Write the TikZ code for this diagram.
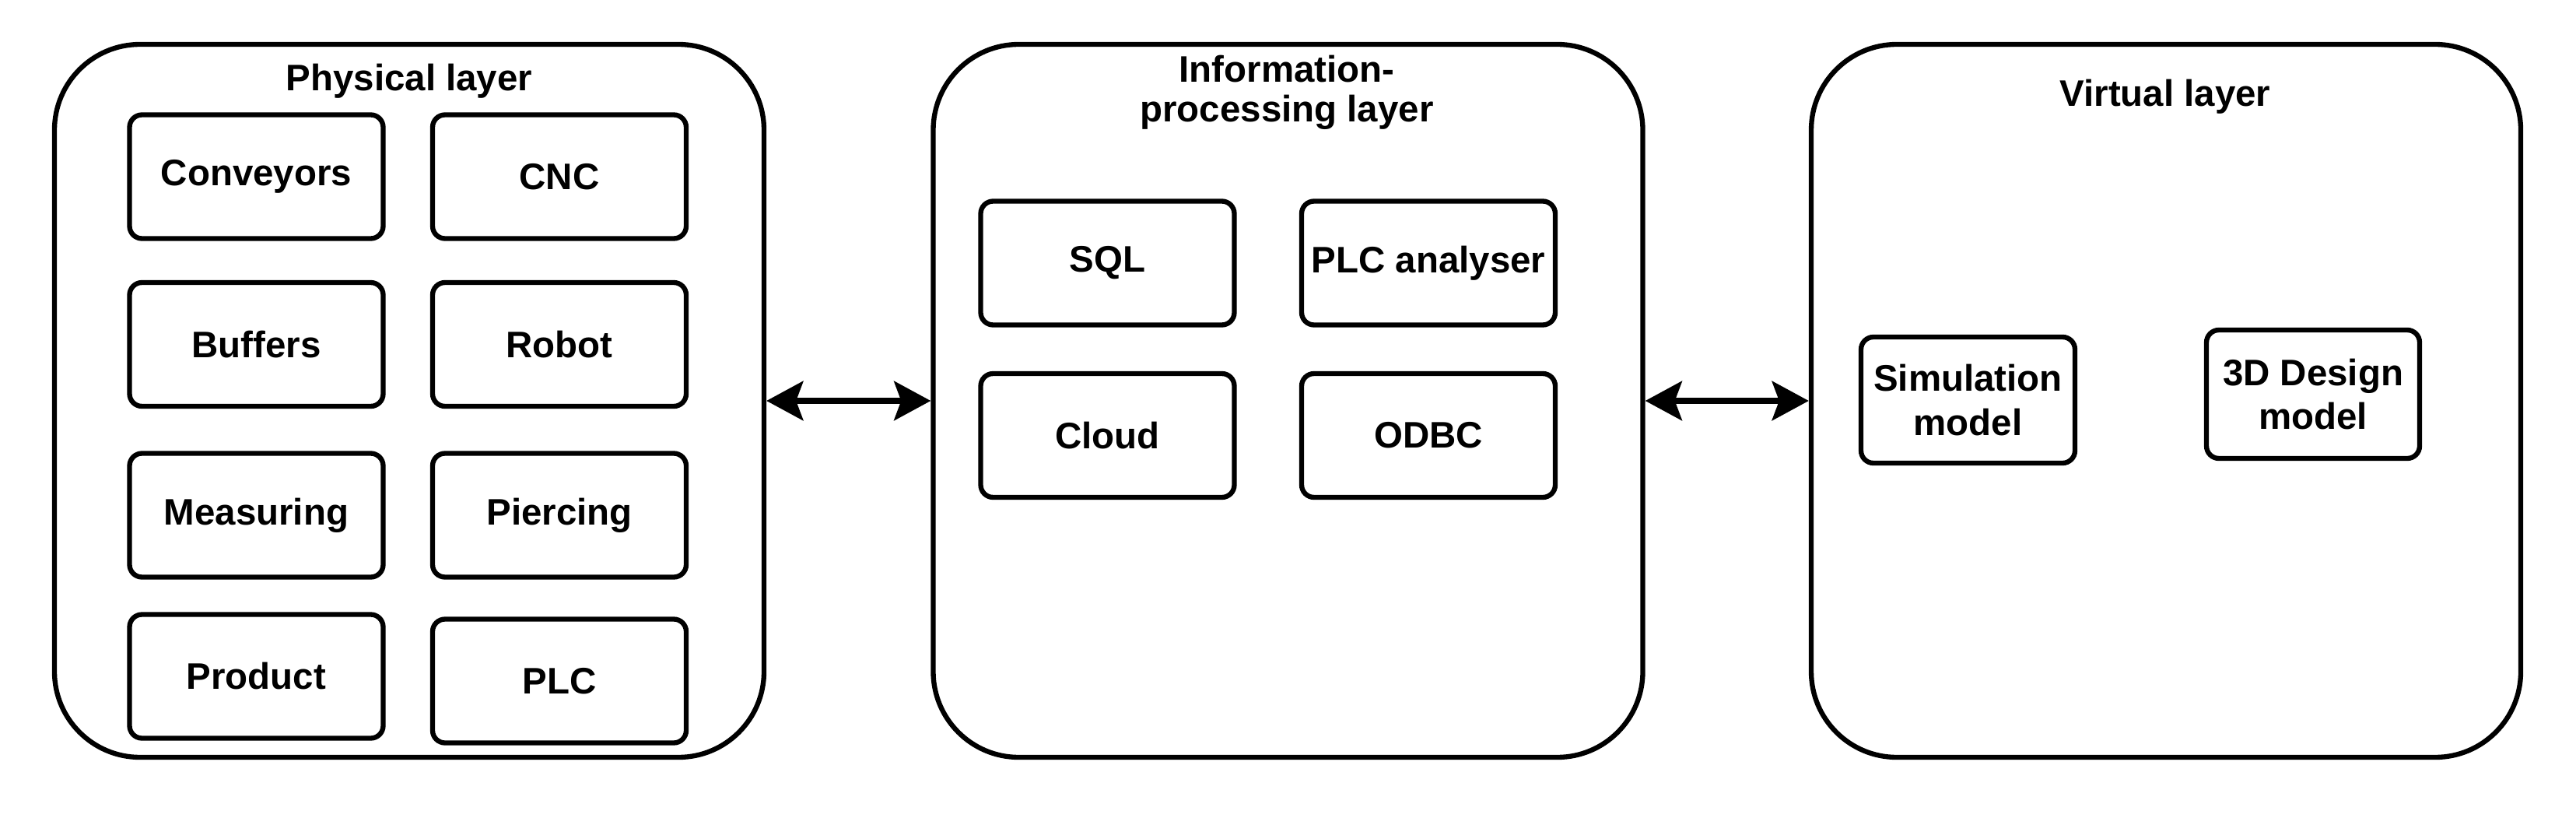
\documentclass[tikz,border=0pt]{standalone}
\usepackage{fontspec}
\setmainfont{Liberation Sans}
\usetikzlibrary{arrows.meta}

\begin{document}
\begin{tikzpicture}[
    layer/.style={draw, line width=1.8pt, rounded corners=1.1cm, minimum width=9.12cm, minimum height=9.16cm},
    item/.style={draw, line width=1.8pt, rounded corners=0.16cm, inner sep=0pt, minimum width=3.26cm, minimum height=1.59cm, align=center, font=\bfseries\fontsize{13.5}{16}\selectfont},
    title/.style={align=center, font=\bfseries\fontsize{13.5}{14.5}\selectfont},
    link/.style={line width=2.4pt, {Stealth[length=4.7mm,width=5mm,inset=0.9mm]}-{Stealth[length=4.7mm,width=5mm,inset=0.9mm]}}
]
\useasboundingbox (0,0) rectangle (33.11,10.5);

\node[layer] (phys) at (5.26,5.35) {};
\node[layer] (info) at (16.555,5.35) {};
\node[layer] (virt) at (27.84,5.35) {};

\node[title] (physT) at (5.26,9.46) {Physical layer};
\node[title] (infoT) at (16.54,9.31) {Information-\\processing layer};
\node[title] (virtT) at (27.83,9.26) {Virtual layer};

\node[item] (conv) at (3.295,8.23) {Conveyors};
\node[item] (cnc) at (7.19,8.23) {CNC};
\node[item] (buf) at (3.295,6.075) {Buffers};
\node[item] (rob) at (7.19,6.075) {Robot};
\node[item] (meas) at (3.295,3.88) {Measuring};
\node[item] (pierc) at (7.19,3.88) {Piercing};
\node[item] (prod) at (3.295,1.81) {Product};
\node[item] (plc) at (7.19,1.75) {PLC};

\node[item] (sql) at (14.235,7.12) {SQL};
\node[item] (plcan) at (18.36,7.12) {PLC analyser};
\node[item] (cloud) at (14.235,4.905) {Cloud};
\node[item] (odbc) at (18.36,4.905) {ODBC};

\node[item, minimum width=2.75cm, minimum height=1.62cm] (sim) at (25.295,5.36) {Simulation\\model};
\node[item, minimum width=2.74cm, minimum height=1.65cm] (des) at (29.73,5.435) {3D Design\\model};

\draw[link] (phys) -- (info);
\draw[link] (info) -- (virt);
\end{tikzpicture}
\end{document}
